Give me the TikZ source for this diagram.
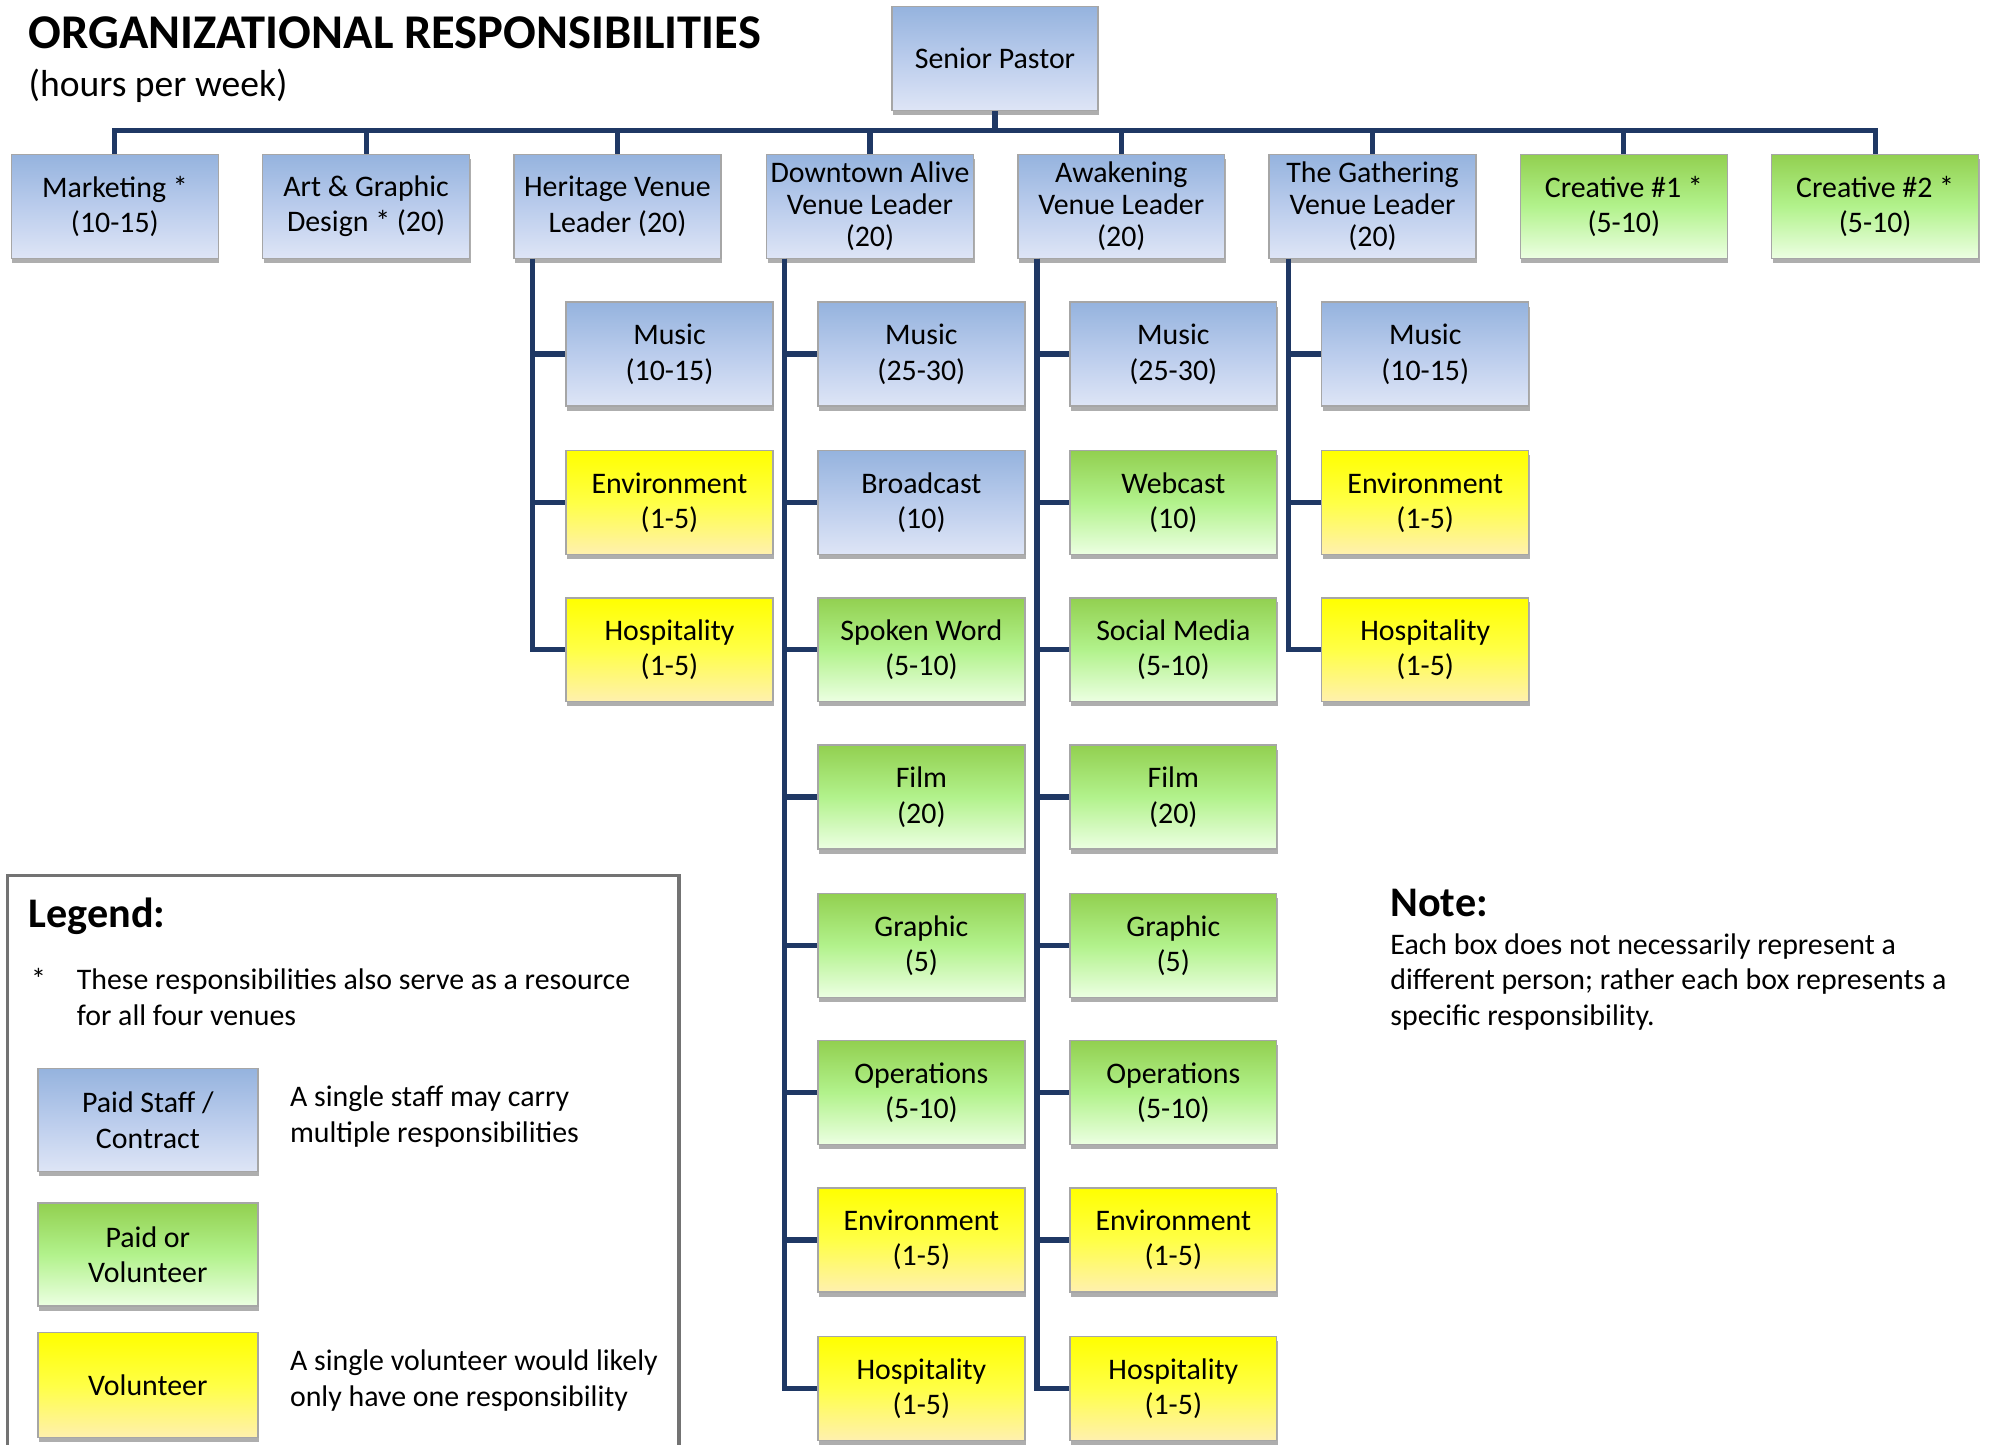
\documentclass[tikz,border=0pt]{standalone}
\usepackage{fontspec}
\setmainfont{Carlito}
\usetikzlibrary{shadows}

\definecolor{staffA}{RGB}{149,179,222}
\definecolor{staffB}{RGB}{186,204,236}
\definecolor{staffC}{RGB}{222,229,246}
\definecolor{mixA}{RGB}{146,208,80}
\definecolor{mixB}{RGB}{178,242,140}
\definecolor{mixC}{RGB}{236,255,226}
\definecolor{volA}{RGB}{255,255,0}
\definecolor{volB}{RGB}{255,255,70}
\definecolor{volC}{RGB}{255,240,175}
\definecolor{linkblue}{RGB}{31,56,100}

\begin{document}
\begin{tikzpicture}[x=0.012691cm,y=-0.012691cm,
    box/.style={rectangle,draw=black!35,thin,align=center,
        minimum width=2.07cm,minimum height=1.04cm,inner sep=1pt,
        font=\fontsize{8.5}{10.1}\selectfont,
        drop shadow={shadow xshift=0.3pt,shadow yshift=-1.3pt,opacity=.45,fill=black!70}},
    staff/.style={box,top color=staffA,bottom color=staffC,middle color=staffB},
    mixed/.style={box,top color=mixA,bottom color=mixC,middle color=mixB},
    vol/.style={box,top color=volA,bottom color=volC,middle color=volB},
    tight/.style={font=\fontsize{8.5}{9}\selectfont},
    link/.style={draw=linkblue,line width=1.5pt},
    txt/.style={anchor=base west,inner sep=0pt,align=left,
        font=\fontsize{8.5}{10.1}\selectfont}]
    \useasboundingbox (0,0) rectangle (1568,1138);

    % Titles
    \node[txt,font=\bfseries\fontsize{13.8}{15}\selectfont] (title) at (22,38) {ORGANIZATIONAL RESPONSIBILITIES};
    \node[txt,font=\fontsize{10.7}{12}\selectfont] (subtitle) at (22,76) {(hours per week)};

    % Top level
    \node[staff,minimum width=2.06cm] (pastor) at (784,46) {Senior Pastor};
    \node[staff] (mkt) at (90.5,162.5) {Marketing *\\(10-15)};
    \node[staff] (art) at (288.5,162.5) {Art \& Graphic\\Design * (20)};
    \node[staff] (herit) at (486.5,162.5) {Heritage Venue\\Leader (20)};
    \node[staff,tight] (down) at (685.5,162.5) {Downtown Alive\\Venue Leader\\(20)};
    \node[staff,tight] (awak) at (883.5,162.5) {Awakening\\Venue Leader\\(20)};
    \node[staff,tight] (gath) at (1081.5,162.5) {The Gathering\\Venue Leader\\(20)};
    \node[mixed] (crea1) at (1279.5,162.5) {Creative \#1 *\\(5-10)};
    \node[mixed] (crea2) at (1477.5,162.5) {Creative \#2 *\\(5-10)};

    \coordinate (bus) at (784,103);
    \draw[link] (pastor.south) -- (bus);
    \foreach \top in {mkt,art,herit,down,awak,gath,crea1,crea2}
        \draw[link] (bus) -| (\top.north);

    % Heritage
    \node[staff] (h1) at (527.5,279) {Music\\(10-15)};
    \node[vol] (h2) at (527.5,396) {Environment\\(1-5)};
    \node[vol] (h3) at (527.5,512) {Hospitality\\(1-5)};

    % Downtown Alive
    \node[staff] (d1) at (726,279) {Music\\(25-30)};
    \node[staff] (d2) at (726,396) {Broadcast\\(10)};
    \node[mixed] (d3) at (726,512) {Spoken Word\\(5-10)};
    \node[mixed] (d4) at (726,628) {Film\\(20)};
    \node[mixed] (d5) at (726,745) {Graphic\\(5)};
    \node[mixed] (d6) at (726,861) {Operations\\(5-10)};
    \node[vol] (d7) at (726,977) {Environment\\(1-5)};
    \node[vol] (d8) at (726,1094) {Hospitality\\(1-5)};

    % Awakening
    \node[staff] (a1) at (924.5,279) {Music\\(25-30)};
    \node[mixed] (a2) at (924.5,396) {Webcast\\(10)};
    \node[mixed] (a3) at (924.5,512) {Social Media\\(5-10)};
    \node[mixed] (a4) at (924.5,628) {Film\\(20)};
    \node[mixed] (a5) at (924.5,745) {Graphic\\(5)};
    \node[mixed] (a6) at (924.5,861) {Operations\\(5-10)};
    \node[vol] (a7) at (924.5,977) {Environment\\(1-5)};
    \node[vol] (a8) at (924.5,1094) {Hospitality\\(1-5)};

    % The Gathering
    \node[staff] (g1) at (1123,279) {Music\\(10-15)};
    \node[vol] (g2) at (1123,396) {Environment\\(1-5)};
    \node[vol] (g3) at (1123,512) {Hospitality\\(1-5)};

    % Trunks
    \foreach \kid in {h1,h2,h3}
        \draw[link] ([xshift=0.19cm]herit.south west) |- (\kid.west);
    \foreach \kid in {d1,d2,d3,d4,d5,d6,d7,d8}
        \draw[link] ([xshift=0.19cm]down.south west) |- (\kid.west);
    \foreach \kid in {a1,a2,a3,a4,a5,a6,a7,a8}
        \draw[link] ([xshift=0.2cm]awak.south west) |- (\kid.west);
    \foreach \kid in {g1,g2,g3}
        \draw[link] ([xshift=0.2cm]gath.south west) |- (\kid.west);

    % Legend
    \draw[black!55,line width=1pt] (6,1150) |- (535,690) -- (535,1150);
    \node[txt,font=\bfseries\fontsize{12}{14}\selectfont] (legtitle) at (22,731) {Legend:};
    \node[txt] (star) at (24,780) {*};
    \node[txt] (startxt) at (60,808) {These responsibilities also serve as a resource\\for all four venues};
    \node[staff,minimum width=2.2cm,minimum height=1.03cm] (lgstaff) at (116.5,882.5) {Paid Staff /\\Contract};
    \node[mixed,minimum width=2.2cm,minimum height=1.03cm] (lgmixed) at (116.5,988.5) {Paid or\\Volunteer};
    \node[vol,minimum width=2.2cm,minimum height=1.05cm] (lgvol) at (116.5,1091.5) {Volunteer};
    \node[txt] (stafftxt) at (228,900) {A single staff may carry\\multiple responsibilities};
    \node[txt] (voltxt) at (228,1108) {A single volunteer would likely\\only have one responsibility};

    % Note
    \node[txt,font=\bfseries\fontsize{12}{14}\selectfont] (notetitle) at (1095,722) {Note:};
    \node[txt] (notetxt) at (1095,808) {Each box does not necessarily represent a\\different person; rather each box represents a\\specific responsibility.};
\end{tikzpicture}
\end{document}
